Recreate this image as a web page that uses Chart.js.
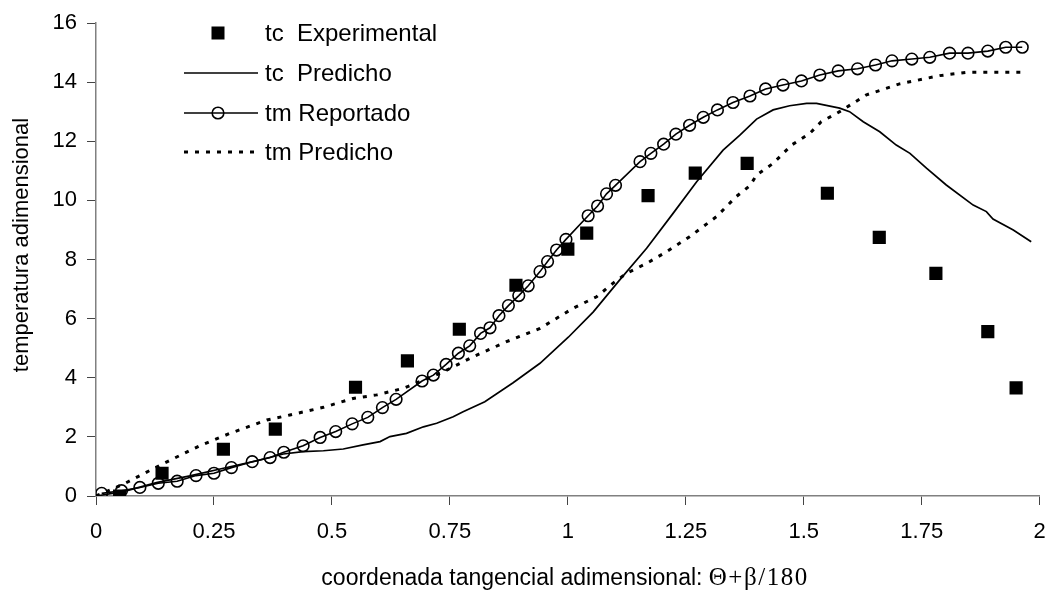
<!DOCTYPE html>
<html>
<head>
<meta charset="utf-8">
<script src="https://cdn.jsdelivr.net/npm/chart.js@4.4.1/dist/chart.umd.min.js"></script>
<style>
html,body{margin:0;padding:0;background:#fff;}
#wrap{width:1049px;height:591px;position:relative;}
</style>
</head>
<body>
<div id="wrap"><canvas id="c" width="1049" height="591"></canvas></div>
<script>
const xTickLabels = ['0','0.25','0.5','0.75','1','1.25','1.5','1.75','2'];
const yTickLabels = ['0','2','4','6','8','10','12','14','16'];
const seriesNames = ['tc  Experimental','tc  Predicho','tm Reportado','tm Predicho'];
const xTitle = 'coordenada tangencial adimensional: ';
const xTitleSymbol = 'Θ+β/180';
const yTitle = 'temperatura adimensional';

const tcExpX = [0.05,0.14,0.27,0.38,0.55,0.66,0.77,0.89,1.00,1.04,1.17,1.27,1.38,1.55,1.66,1.78,1.89,1.95];
const tcExpY = [0.0,0.77,1.58,2.26,3.68,4.57,5.64,7.13,8.35,8.89,10.16,10.92,11.25,10.24,8.75,7.53,5.56,3.66];

const tcPredX = [0.0,0.058,0.128,0.199,0.27,0.34,0.397,0.439,0.482,0.524,0.566,0.602,0.623,0.658,0.694,0.722,0.757,0.778,0.824,0.884,0.941,1.001,1.054,1.11,1.167,1.223,1.273,1.329,1.364,1.4,1.435,1.47,1.506,1.527,1.576,1.597,1.626,1.661,1.696,1.725,1.76,1.802,1.859,1.887,1.901,1.944,1.982];
const tcPredY = [0.0,0.15,0.45,0.68,0.94,1.19,1.42,1.5,1.53,1.59,1.73,1.84,2.01,2.12,2.34,2.46,2.68,2.85,3.19,3.83,4.49,5.37,6.23,7.31,8.38,9.56,10.63,11.7,12.2,12.75,13.06,13.2,13.28,13.28,13.12,13.0,12.66,12.32,11.87,11.59,11.09,10.52,9.84,9.62,9.37,9.0,8.6];

const tmRepX = [0.012,0.054,0.093,0.132,0.172,0.212,0.25,0.287,0.331,0.369,0.398,0.439,0.475,0.508,0.543,0.576,0.607,0.636,0.691,0.715,0.742,0.768,0.792,0.815,0.835,0.854,0.874,0.896,0.916,0.941,0.957,0.976,0.996,1.043,1.063,1.082,1.101,1.153,1.176,1.203,1.229,1.258,1.287,1.317,1.35,1.386,1.419,1.456,1.495,1.534,1.573,1.614,1.652,1.687,1.729,1.767,1.809,1.848,1.89,1.928,1.963];
const tmRepY = [0.09,0.18,0.29,0.43,0.5,0.69,0.77,0.96,1.16,1.3,1.48,1.7,1.98,2.18,2.44,2.66,2.99,3.27,3.89,4.09,4.45,4.83,5.08,5.5,5.69,6.1,6.44,6.78,7.11,7.59,7.93,8.32,8.68,9.48,9.81,10.22,10.51,11.31,11.59,11.9,12.24,12.54,12.81,13.06,13.31,13.53,13.77,13.9,14.04,14.24,14.38,14.45,14.58,14.72,14.78,14.84,14.98,14.98,15.05,15.18,15.18];

const tmPredX = [0.0,0.058,0.143,0.22,0.284,0.362,0.411,0.482,0.545,0.595,0.651,0.694,0.736,0.799,0.87,0.941,1.011,1.061,1.096,1.124,1.167,1.209,1.258,1.315,1.357,1.386,1.4,1.435,1.474,1.513,1.537,1.576,1.633,1.703,1.788,1.845,1.972];
const tmPredY = [0.0,0.4,1.1,1.7,2.12,2.57,2.74,3.0,3.3,3.42,3.64,3.92,4.2,4.71,5.22,5.67,6.35,6.74,7.2,7.53,7.87,8.26,8.77,9.45,10.13,10.5,10.86,11.25,11.87,12.27,12.66,13.0,13.57,13.94,14.22,14.33,14.33];

const pts = (xs, ys) => xs.map((x, i) => ({x: x, y: ys[i]}));

const FONT = '"Liberation Sans", Arial, sans-serif';
Chart.defaults.font.family = FONT;
Chart.defaults.font.size = 22;
Chart.defaults.color = '#000';

const datasets = [
  {label: seriesNames[0], data: pts(tcExpX, tcExpY), showLine: false,
   pointStyle: 'rect', pointRadius: 9.3, pointBorderWidth: 0,
   backgroundColor: '#000', borderColor: '#000', order: 0},
  {label: seriesNames[1], data: pts(tcPredX, tcPredY), showLine: true,
   borderColor: '#000', borderWidth: 1.7, pointRadius: 0, tension: 0, order: 3},
  {label: seriesNames[2], data: pts(tmRepX, tmRepY), showLine: true,
   borderColor: '#000', borderWidth: 1.6, pointStyle: 'circle', pointRadius: 5.8,
   pointBorderWidth: 1.6, pointBackgroundColor: 'rgba(0,0,0,0)', pointBorderColor: '#000', order: 1},
  {label: seriesNames[3], data: pts(tmPredX, tmPredY), showLine: true,
   borderColor: '#000', borderWidth: 3, borderDash: [4, 7], pointRadius: 0, tension: 0, order: 2}
];

const customDraw = {
  id: 'customDraw',
  afterDraw(chart) {
    const ctx = chart.ctx;
    ctx.save();
    // legend
    const lx0 = 184, lx1 = 258, tx = 265;
    const rows = [33, 73, 113, 152];
    ctx.font = '24px ' + FONT;
    ctx.fillStyle = '#000';
    ctx.textBaseline = 'middle';
    ctx.textAlign = 'left';
    chart.data.datasets.forEach((ds, i) => {
      const y = rows[i];
      ctx.strokeStyle = '#000';
      if (i === 0) {
        ctx.fillRect(218 - 6.5, y - 6.5, 13, 13);
      } else {
        ctx.beginPath();
        ctx.lineWidth = ds.borderWidth;
        ctx.setLineDash(ds.borderDash || []);
        ctx.moveTo(lx0, y);
        ctx.lineTo(lx1, y);
        ctx.stroke();
        ctx.setLineDash([]);
        if (i === 2) {
          ctx.beginPath();
          ctx.lineWidth = 1.6;
          ctx.arc(218, y, 5.8, 0, Math.PI * 2);
          ctx.stroke();
        }
      }
      ctx.fillText(ds.label, tx, y + 1);
    });
    // x title (sans part + serif symbol part)
    ctx.textBaseline = 'alphabetic';
    const f1 = '23px ' + FONT;
    const f2 = '25px "Liberation Serif", "Times New Roman", serif';
    const extra = 1.5;
    ctx.font = f1;
    const w1 = ctx.measureText(xTitle).width;
    ctx.font = f2;
    let w2 = 0;
    for (const ch of xTitleSymbol) w2 += ctx.measureText(ch).width + extra;
    const cx = 565;
    const sx = cx - (w1 + w2) / 2;
    const by = 585;
    ctx.font = f1;
    ctx.fillText(xTitle, sx, by);
    ctx.font = f2;
    let px = sx + w1;
    for (const ch of xTitleSymbol) { ctx.fillText(ch, px, by); px += ctx.measureText(ch).width + extra; }
    // y title
    ctx.font = '22px ' + FONT;
    ctx.translate(22, 245);
    ctx.rotate(-Math.PI / 2);
    ctx.textAlign = 'center';
    ctx.textBaseline = 'middle';
    ctx.fillText(yTitle, 0, 0);
    ctx.restore();
  }
};

new Chart(document.getElementById('c'), {
  type: 'scatter',
  data: {datasets: datasets},
  options: {
    responsive: false,
    animation: false,
    devicePixelRatio: 1,
    layout: {padding: {left: 0, right: 9, top: 23, bottom: 0}},
    plugins: {legend: {display: false}, tooltip: {enabled: false}},
    scales: {
      x: {
        type: 'linear', min: 0, max: 2,
        ticks: {stepSize: 0.25, callback: (v, i) => xTickLabels[i], padding: 14, maxRotation: 0, autoSkip: false},
        grid: {drawOnChartArea: false, tickLength: 9, color: '#444'},
        border: {color: '#808080', width: 1.5},
        afterFit: (s) => { s.height = 95; s.paddingLeft = 0; s.paddingRight = 0; }
      },
      y: {
        type: 'linear', min: 0, max: 16,
        ticks: {stepSize: 2, callback: (v, i) => yTickLabels[i], padding: 10},
        grid: {drawOnChartArea: false, tickLength: 9, color: '#444'},
        border: {color: '#808080', width: 1.5},
        afterFit: (s) => { s.width = 96; s.paddingTop = 0; s.paddingBottom = 0; }
      }
    }
  },
  plugins: [customDraw]
});
</script>
</body>
</html>
